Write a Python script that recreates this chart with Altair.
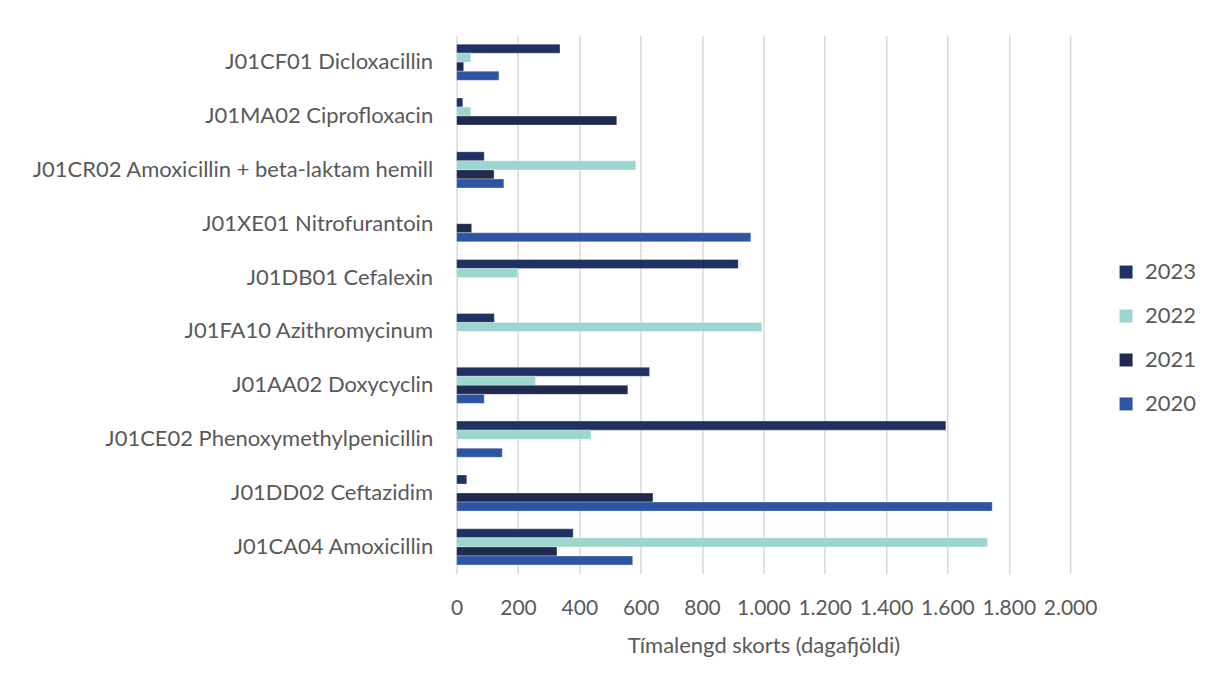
import altair as alt
import pandas as pd

categories = [
    "J01CF01 Dicloxacillin",
    "J01MA02 Ciprofloxacin",
    "J01CR02 Amoxicillin + beta-laktam hemill",
    "J01XE01 Nitrofurantoin",
    "J01DB01 Cefalexin",
    "J01FA10 Azithromycinum",
    "J01AA02 Doxycyclin",
    "J01CE02 Phenoxymethylpenicillin",
    "J01DD02 Ceftazidim",
    "J01CA04 Amoxicillin",
]
years = ["2023", "2022", "2021", "2020"]
v2023 = [337, 20, 90, 0, 918, 123, 629, 1595, 33, 380]
v2022 = [46, 46, 584, 0, 198, 995, 257, 438, 0, 1731]
v2021 = [23, 522, 122, 49, 0, 0, 558, 0, 640, 327]
v2020 = [138, 0, 154, 959, 0, 0, 90, 149, 1746, 574]
colors = ["#1F3262", "#9DD5D0", "#1F2A4E", "#2E55A3"]
x_ticks = [0, 200, 400, 600, 800, 1000, 1200, 1400, 1600, 1800, 2000]

rows = []
for yr, vals in zip(years, [v2023, v2022, v2021, v2020]):
    for c, v in zip(categories, vals):
        if v > 0:
            rows.append({"category": c, "year": yr, "value": v})
df = pd.DataFrame(rows)

FONT = "Lato"
GREY = "#595959"
FS = 22

chart = alt.Chart(df).mark_bar(
    stroke="#ffffff", strokeWidth=0.6, strokeOpacity=0.5
).encode(
    y=alt.Y(
        "category:N",
        sort=categories,
        scale=alt.Scale(domain=categories, paddingInner=0.33, paddingOuter=0.165),
        axis=alt.Axis(
            title=None, labelFontSize=FS, labelColor=GREY, labelFont=FONT,
            ticks=False, domain=False, labelPadding=24, labelLimit=600,
            minExtent=444, maxExtent=444,
        ),
    ),
    yOffset=alt.YOffset(
        "year:N", sort=years,
        scale=alt.Scale(domain=years, paddingInner=0, paddingOuter=0),
    ),
    x=alt.X(
        "value:Q",
        scale=alt.Scale(domain=[0, 2000], nice=False),
        axis=alt.Axis(
            values=x_ticks,
            labelExpr="replace(format(datum.value, ','), ',', '.')",
            labelOverlap=False, labelFlush=False,
            title="Tímalengd skorts (dagafjöldi)",
            grid=True, gridColor="#D9D9D9", gridWidth=1.5,
            domain=False, ticks=False,
            labelFontSize=21, labelColor=GREY, labelFont=FONT, labelPadding=24,
            titleFontSize=FS, titleColor=GREY, titleFont=FONT,
            titleFontWeight="normal", titlePadding=17,
        ),
    ),
    color=alt.Color(
        "year:N",
        scale=alt.Scale(domain=years, range=colors),
        legend=alt.Legend(
            title=None, orient="none", legendX=659, legendY=226,
            symbolType="square", symbolSize=169, symbolStrokeWidth=0,
            labelFontSize=FS, labelColor=GREY, labelFont=FONT,
            rowPadding=22, labelOffset=8,
        ),
    ),
).properties(
    width=614, height=539,
    padding={"left": 5, "top": 27, "right": 10, "bottom": 10},
    background="#ffffff",
).configure_view(stroke=None)

chart.save("out.html", embed_options={"renderer": "svg", "actions": False})
